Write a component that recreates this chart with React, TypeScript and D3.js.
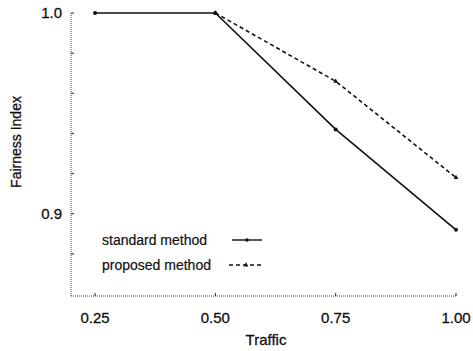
import React from 'react';
import * as d3 from 'd3';

const traffic = [0.25, 0.5, 0.75, 1.0];
const standardMethod = [1.0, 1.0, 0.942, 0.892];
const proposedTraffic = [0.5, 0.75, 1.0];
const proposedMethod = [1.0, 0.966, 0.918];
const xTicks = [0.25, 0.5, 0.75, 1.0];
const xTickLabels = ['0.25', '0.50', '0.75', '1.00'];
const yTicks = [0.88, 0.9, 0.92, 0.94, 0.96, 0.98, 1.0];
const yLabelTicks = [0.9, 1.0];

const W = 473;
const H = 351;
const font = '"Liberation Sans", Arial, sans-serif';

export default function App() {
    const x = d3.scaleLinear().domain([0.2, 1.0]).range([71, 456]);
    const y = d3.scaleLinear().domain([0.859, 1.0]).range([296, 13]);

    const line = d3.line<[number, number]>()
        .x(d => x(d[0]))
        .y(d => y(d[1]));

    const std = traffic.map((t, i) => [t, standardMethod[i]] as [number, number]);
    const prop = proposedTraffic.map((t, i) => [t, proposedMethod[i]] as [number, number]);

    const [x0, x1] = x.range();
    const [yb, yt] = y.range();

    return (
        <svg width={W} height={H} style={{ position: 'absolute', left: 0, top: 0, background: '#fff' }}
            fontFamily={font}>
            {/* axes */}
            <line x1={x0} x2={x0} y1={yt} y2={yb} stroke="#444" strokeWidth={1} strokeDasharray="1,1" />
            <line x1={x0} x2={x1} y1={yb} y2={yb} stroke="#444" strokeWidth={1} strokeDasharray="1,1" />
            {yTicks.map(t => (
                <line key={t} x1={x0} x2={x0 + 3} y1={y(t)} y2={y(t)} stroke="#222" />
            ))}
            {xTicks.map(t => (
                <line key={t} x1={x(t)} x2={x(t)} y1={yb} y2={yb - 3} stroke="#222" />
            ))}
            {yLabelTicks.map(t => (
                <text key={t} x={x0 - 9} y={y(t)} dy="0.36em" textAnchor="end" fontSize={15}
                    fill="#111" stroke="#111" strokeWidth={0.3}>{t.toFixed(1)}</text>
            ))}
            {xTicks.map((t, i) => (
                <text key={t} x={x(t)} y={323} textAnchor="middle" fontSize={15}
                    fill="#111" stroke="#111" strokeWidth={0.3}>{xTickLabels[i]}</text>
            ))}
            <text x={266} y={345} textAnchor="middle" fontSize={15} fill="#111" stroke="#111" strokeWidth={0.3}>Traffic</text>
            <text transform={`translate(21,${142}) rotate(-90)`} textAnchor="middle" fontSize={14}
                fill="#111" stroke="#111" strokeWidth={0.3}>Fairness Index</text>

            {/* series */}
            <path d={line(prop) || ''} fill="none" stroke="#111" strokeWidth={1.6} strokeDasharray="4,3" />
            <path d={line(std) || ''} fill="none" stroke="#111" strokeWidth={1.6} />
            {std.map((d, i) => (
                <circle key={i} cx={x(d[0])} cy={y(d[1])} r={2} fill="#111" />
            ))}
            {prop.map((d, i) => (
                <path key={i} d={d3.symbol(d3.symbolTriangle, 10)() || ''}
                    transform={`translate(${x(d[0])},${y(d[1])})`} fill="#111" />
            ))}

            {/* legend */}
            <g fontSize={14} fill="#111">
                <text x={102} y={240} dy="0.36em" stroke="#111" strokeWidth={0.2}>standard method</text>
                <text x={102} y={265} dy="0.36em" stroke="#111" strokeWidth={0.2}>proposed method</text>
                <line x1={232} x2={262} y1={240} y2={240} stroke="#111" strokeWidth={1.4} />
                <circle cx={247} cy={240} r={1.8} fill="#111" />
                <line x1={229} x2={263} y1={265} y2={265} stroke="#111" strokeWidth={1.4} strokeDasharray="4,3" />
                <path d={d3.symbol(d3.symbolTriangle, 10)() || ''} transform="translate(246,265)" fill="#111" />
            </g>
        </svg>
    );
}
